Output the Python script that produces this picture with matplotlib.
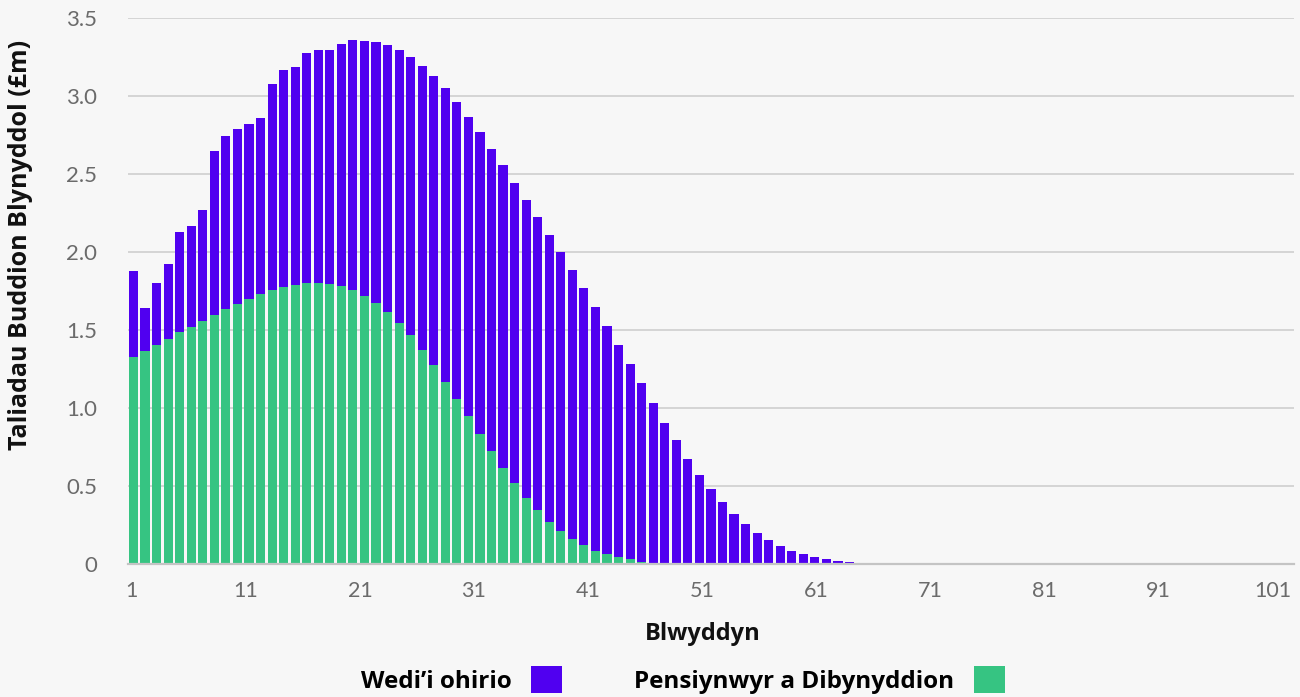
import matplotlib
matplotlib.use("Agg")
import matplotlib.pyplot as plt
from matplotlib.patches import Patch

years = list(range(1, 102))

pensioners = [
    1.325, 1.363, 1.400, 1.441, 1.483, 1.517, 1.555, 1.592, 1.633, 1.664,
    1.697, 1.728, 1.754, 1.773, 1.787, 1.799, 1.799, 1.791, 1.780, 1.754,
    1.716, 1.671, 1.614, 1.543, 1.464, 1.370, 1.273, 1.163, 1.055, 0.945,
    0.832, 0.723, 0.614, 0.517, 0.422, 0.344, 0.268, 0.209, 0.159, 0.119,
    0.086, 0.061, 0.043, 0.029, 0.015, 0.009, 0.009, 0.003, 0.003, 0.003,
    0.003, 0.003, 0.003, 0.003, 0.003, 0.0, 0.0, 0.0, 0.0, 0.0,
    0.0, 0.0, 0.0, 0.0, 0.0, 0.0, 0.0, 0.0, 0.0, 0.0,
    0.0, 0.0, 0.0, 0.0, 0.0, 0.0, 0.0, 0.0, 0.0, 0.0,
    0.0, 0.0, 0.0, 0.0, 0.0, 0.0, 0.0, 0.0, 0.0, 0.0,
    0.0, 0.0, 0.0, 0.0, 0.0, 0.0, 0.0, 0.0, 0.0, 0.0,
    0.0,
]

deferred = [
    0.549, 0.274, 0.399, 0.478, 0.643, 0.647, 0.710, 1.053, 1.106, 1.120,
    1.121, 1.127, 1.319, 1.391, 1.395, 1.474, 1.492, 1.500, 1.549, 1.601,
    1.632, 1.670, 1.708, 1.748, 1.782, 1.820, 1.853, 1.884, 1.902, 1.918,
    1.933, 1.933, 1.941, 1.921, 1.907, 1.876, 1.839, 1.789, 1.723, 1.646,
    1.559, 1.463, 1.357, 1.251, 1.141, 1.019, 0.897, 0.788, 0.672, 0.570,
    0.480, 0.397, 0.320, 0.256, 0.198, 0.156, 0.118, 0.085, 0.066, 0.047,
    0.034, 0.021, 0.015, 0.009, 0.005, 0.005, 0.005, 0.005, 0.005, 0.005,
    0.005, 0.005, 0.005, 0.0, 0.0, 0.0, 0.0, 0.0, 0.0, 0.0,
    0.0, 0.0, 0.0, 0.0, 0.0, 0.0, 0.0, 0.0, 0.0, 0.0,
    0.0, 0.0, 0.0, 0.0, 0.0, 0.0, 0.0, 0.0, 0.0, 0.0,
    0.0,
]

xtick_labels = ["1", "11", "21", "31", "41", "51", "61", "71", "81", "91", "101"]
ytick_values = [0, 0.5, 1.0, 1.5, 2.0, 2.5, 3.0, 3.5]
ytick_labels = ["0", "0.5", "1.0", "1.5", "2.0", "2.5", "3.0", "3.5"]

series_deferred = "Wedi\u2019i ohirio"
series_pensioners = "Pensiynwyr a Dibynyddion"
xlabel = "Blwyddyn"
ylabel = "Taliadau Buddion Blynyddol (\u00a3m)"

PURPLE = "#5000F0"
GREEN = "#36C482"
BG = "#F7F7F7"

plt.rcParams["font.family"] = ["Lato", "DejaVu Sans"]
BOLD_FAMILY = ["Open Sans", "DejaVu Sans"]

W, H = 1300, 697
fig = plt.figure(figsize=(W / 100, H / 100), dpi=100, facecolor=BG)
ax = fig.add_axes([127.7 / W, 1 - 564 / H, (1294.2 - 127.7) / W, (564 - 17.5) / H])
ax.set_facecolor(BG)

x = list(range(len(years)))
ax.bar(x, pensioners, width=0.79, color=GREEN, zorder=3, linewidth=0)
ax.bar(x, deferred, width=0.79, bottom=pensioners, color=PURPLE, zorder=3, linewidth=0)

ax.set_xlim(-0.5, len(years) - 0.5)
ax.set_ylim(0, 3.5)

ax.set_yticks(ytick_values)
ax.set_yticklabels(ytick_labels)
# category labels sit slightly left of their bars in the reference (label spacing a bit tighter)
tick_pos = [-0.156 + 0.9881 * years.index(int(t)) for t in xtick_labels]
ax.set_xticks(tick_pos)
ax.set_xticklabels(xtick_labels)

ax.tick_params(axis="y", length=0, pad=22, labelsize=16, labelcolor="#6b6b6b")
ax.tick_params(axis="x", length=0, pad=12, labelsize=15.5, labelcolor="#6b6b6b")

ax.grid(axis="y", color="#cfcfcf", linewidth=1.2, zorder=0)
ax.grid(axis="x", visible=False)
for s in ["left", "right", "top"]:
    ax.spines[s].set_visible(False)
ax.spines["bottom"].set_color("#c4c4c4")
ax.spines["bottom"].set_linewidth(1.6)
ax.spines["bottom"].set_zorder(4)

fig.text(703 / W, 1 - 634 / H, xlabel, ha="center", va="center",
         fontsize=17, fontweight="bold", color="#111111", family=BOLD_FAMILY)
fig.text(21 / W, 1 - 245 / H, ylabel, ha="center", va="center", rotation=90,
         fontsize=18, fontweight="bold", color="#111111", family=BOLD_FAMILY)

handles = [Patch(facecolor=PURPLE, edgecolor="none", label=series_deferred),
           Patch(facecolor=GREEN, edgecolor="none", label=series_pensioners)]
fig.legend(handles=handles, loc="center", bbox_to_anchor=(683 / W, 1 - 680 / H),
           ncol=2, frameon=False, markerfirst=False,
           prop={"size": 17.5, "weight": "bold", "family": BOLD_FAMILY},
           handlelength=1.28, handleheight=1.28, handletextpad=0.82,
           columnspacing=2.96, borderaxespad=0, borderpad=0)

fig.savefig("out.png", dpi=100, facecolor=BG)
